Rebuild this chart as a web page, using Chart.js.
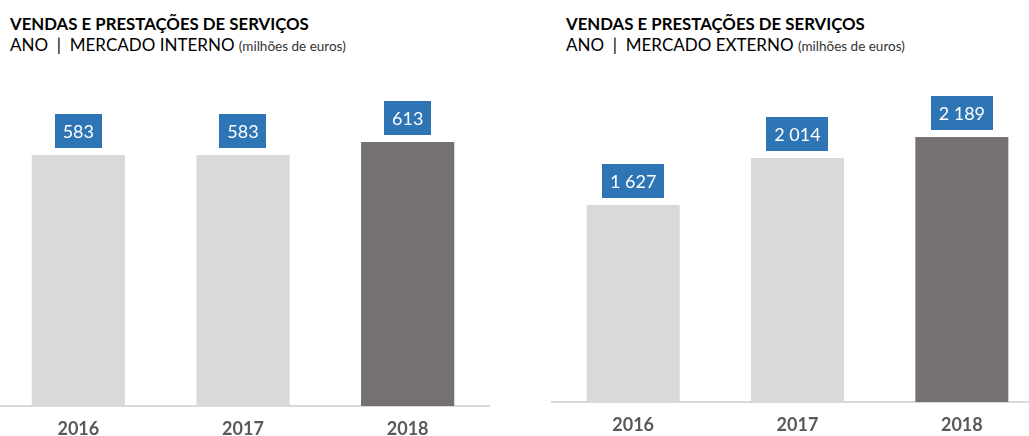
<!DOCTYPE html>
<html>
<head>
<meta charset="utf-8">
<script src="https://cdn.jsdelivr.net/npm/chart.js@4.4.1/dist/chart.umd.min.js"></script>
<style>
  body { margin: 0; width: 1029px; height: 436px; overflow: hidden; background: #fff; position: relative; font-family: Lato, "Open Sans", sans-serif; }
  .head { position: absolute; top: 14px; color: #000; white-space: nowrap; }
  .head .t { font-weight: bold; font-size: 16.8px; line-height: 20px; }
  .head .s { font-size: 17px; line-height: 22px; }
  .head .s small { font-size: 13.5px; color: #333; }
  .box { position: absolute; }
</style>
</head>
<body>
<div class="head" style="left:10px">
  <div class="t">VENDAS E PRESTAÇÕES DE SERVIÇOS</div>
  <div class="s">ANO &nbsp;|&nbsp; MERCADO INTERNO <small>(milhões de euros)</small></div>
</div>
<div class="head" style="left:566px">
  <div class="t">VENDAS E PRESTAÇÕES DE SERVIÇOS</div>
  <div class="s">ANO &nbsp;|&nbsp; MERCADO EXTERNO <small>(milhões de euros)</small></div>
</div>

<div class="box" style="left:-4px;top:80px"><canvas id="chart-internal" width="494" height="356"></canvas></div>
<div class="box" style="left:551px;top:80px"><canvas id="chart-external" width="493" height="352"></canvas></div>

<script>
  var years = ['2016', '2017', '2018'];
  var internalSales = [583, 583, 613];
  var externalSales = [1627, 2014, 2189];
  var internalMax = 757;
  var externalMax = 2659;

  var light = '#d9d9d9',
      dark = '#767171',
      blue = '#2e75b6',
      tickGray = '#595959';

  function fmt(v) {
    return String(v).replace(/\B(?=(\d{3})+(?!\d))/g, ' ');
  }

  // blue value boxes above the bars
  var valueBoxes = {
    id: 'valueBoxes',
    afterDatasetsDraw: function (chart) {
      var ctx = chart.ctx;
      var meta = chart.getDatasetMeta(0);
      var data = chart.data.datasets[0].data;
      ctx.save();
      ctx.font = '18px Lato, sans-serif';
      ctx.textAlign = 'center';
      ctx.textBaseline = 'middle';
      meta.data.forEach(function (bar, i) {
        var txt = fmt(data[i]);
        var w = ctx.measureText(txt).width + 16;
        var h = 34;
        var bottom = bar.y - 7;
        ctx.fillStyle = blue;
        ctx.fillRect(Math.round(bar.x - w / 2), Math.round(bottom - h), Math.round(w), h);
        ctx.fillStyle = '#fff';
        ctx.fillText(txt, bar.x, bottom - h / 2 + 1);
      });
      ctx.restore();
    }
  };

  function makeChart(id, values, max, pad) {
    return new Chart(document.getElementById(id).getContext('2d'), {
      type: 'bar',
      data: {
        labels: years,
        datasets: [{
          data: values,
          backgroundColor: [light, light, dark],
          borderWidth: 0,
          categoryPercentage: 1,
          barPercentage: 0.566
        }]
      },
      options: {
        responsive: false,
        animation: false,
        layout: { padding: 0 },
        plugins: { legend: { display: false }, tooltip: { enabled: false } },
        scales: {
          x: {
            grid: { display: false },
            border: { display: true, color: light, width: 2 },
            ticks: { color: tickGray, padding: pad, font: { family: 'Lato', size: 18, weight: 'bold' } },
            afterFit: function (axis) { axis.height = 30; }
          },
          y: { display: false, min: 0, max: max }
        }
      },
      plugins: [valueBoxes]
    });
  }

  makeChart('chart-internal', internalSales, internalMax, 4);
  makeChart('chart-external', externalSales, externalMax, 4);
</script>
</body>
</html>
